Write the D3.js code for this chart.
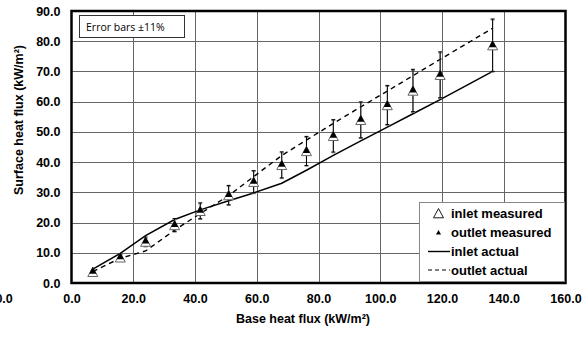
<!DOCTYPE html>
<html>
<head>
<meta charset="utf-8">
<script src="https://cdn.jsdelivr.net/npm/d3@7"></script>
<style>
  html, body { margin: 0; padding: 0; background: #fff; }
  svg text { font-family: "Liberation Sans", Arial, sans-serif; }
</style>
</head>
<body>
<svg id="chart" width="588" height="338"></svg>
<script>
// Base heat flux at each measuring point (kW/m²)
const baseFlux = [6.9, 15.8, 24.0, 33.4, 41.7, 50.9, 59.0, 68.1, 76.1, 84.8, 93.7, 102.3, 110.6, 119.4, 136.4];
// Surface heat flux (kW/m²)
const inletMeasured  = [3.4, 8.2, 13.4, 18.9, 23.6, 28.8, 33.2, 38.8, 43.4, 48.4, 53.7, 58.6, 63.4, 68.6, 78.4];
const outletMeasured = [3.7, 8.5, 13.7, 19.2, 23.9, 29.1, 33.5, 39.1, 43.7, 48.7, 54.0, 58.9, 63.7, 68.9, 78.7];
const inletActual    = [4.6, 9.8, 15.7, 21.0, 24.2, 27.2, 29.8, 33.0, 37.3, 42.2, 47.0, 51.6, 56.0, 60.7, 70.0];
const outletActual   = [3.8, 8.2, 10.6, 17.5, 23.0, 28.9, 35.2, 42.2, 47.3, 52.8, 58.3, 63.5, 68.6, 74.0, 84.3];
const errorFraction = 0.11;

const xTickValues = [-22, 0, 20, 40, 60, 80, 100, 120, 140, 160];
const xTickLabels = ["0.0", "0.0", "20.0", "40.0", "60.0", "80.0", "100.0", "120.0", "140.0", "160.0"];
const yTickValues = [0, 10, 20, 30, 40, 50, 60, 70, 80, 90];

const legendLabels = ["inlet measured", "outlet measured", "inlet actual", "outlet actual"];

const svg = d3.select("#chart");
const x = d3.scaleLinear().domain([0, 160]).range([71.5, 565.5]);
const y = d3.scaleLinear().domain([0, 90]).range([283, 11]);

const fmt = d3.format(".1f");

// Grid
const grid = svg.append("g");
grid.selectAll("line.gx").data(xTickValues.filter(v => v > 0 && v < 160)).join("line")
  .attr("x1", d => Math.round(x(d)) + 0.5).attr("x2", d => Math.round(x(d)) + 0.5)
  .attr("y1", y(90)).attr("y2", y(0))
  .attr("stroke", "#666").attr("stroke-width", 1);
grid.selectAll("line.gy").data(yTickValues.filter(v => v > 0 && v < 90)).join("line")
  .attr("y1", d => Math.round(y(d)) + 0.5).attr("y2", d => Math.round(y(d)) + 0.5)
  .attr("x1", x(0)).attr("x2", x(160))
  .attr("stroke", "#666").attr("stroke-width", 1);

// Axis tick labels
const yAxis = d3.axisLeft(y).tickValues(yTickValues).tickFormat(fmt).tickSize(0).tickPadding(11);
svg.append("g").attr("transform", `translate(${x(0)},0)`).call(yAxis)
  .call(g => g.select(".domain").remove())
  .call(g => g.selectAll("text").attr("font-size", 12.5).attr("font-weight", "bold")
    .attr("fill", "#000"));

const xAxisScale = d3.scaleLinear().domain([-40, 160]).range([x(-40), x(160)]);
const xAxis = d3.axisBottom(xAxisScale).tickValues(xTickValues)
  .tickFormat((d, i) => xTickLabels[i]).tickSize(0).tickPadding(11);
svg.append("g").attr("transform", `translate(0,${y(0)})`).call(xAxis)
  .call(g => g.select(".domain").remove())
  .call(g => g.selectAll("text").attr("font-size", 12.5).attr("font-weight", "bold")
    .attr("fill", "#000"));

// Axis titles
svg.append("text").attr("x", 303).attr("y", 323).attr("text-anchor", "middle")
  .attr("font-size", 12.5).attr("font-weight", "bold").text("Base heat flux (kW/m²)");
svg.append("text").attr("transform", `translate(22.5,${120}) rotate(-90)`)
  .attr("text-anchor", "middle").attr("font-size", 12.5).attr("font-weight", "bold")
  .text("Surface heat flux (kW/m²)");

// Lines
const line = d3.line().x(d => x(d[0])).y(d => y(d[1]));
svg.append("path").datum(baseFlux.map((b, i) => [b, inletActual[i]]))
  .attr("d", line).attr("fill", "none").attr("stroke", "#000").attr("stroke-width", 1.5);
svg.append("path").datum(baseFlux.map((b, i) => [b, outletActual[i]]))
  .attr("d", line).attr("fill", "none").attr("stroke", "#000").attr("stroke-width", 1.4)
  .attr("stroke-dasharray", "5,4");

// Error bars
function errorBars(values, color) {
  const g = svg.append("g").attr("stroke", color).attr("stroke-width", 1);
  values.forEach((v, i) => {
    const cx = x(baseFlux[i]);
    const hi = y(v * (1 + errorFraction)), lo = y(v * (1 - errorFraction));
    g.append("line").attr("x1", cx).attr("x2", cx).attr("y1", hi).attr("y2", lo);
    g.append("line").attr("x1", cx - 2).attr("x2", cx + 2).attr("y1", hi).attr("y2", hi);
    g.append("line").attr("x1", cx - 2).attr("x2", cx + 2).attr("y1", lo).attr("y2", lo);
  });
}
errorBars(inletMeasured, "#888");
errorBars(outletMeasured, "#000");

// Markers
const openTri = (cx, cy) => `M${cx},${cy - 5.5}L${cx + 5},${cy + 3.8}L${cx - 5},${cy + 3.8}Z`;
const fillTri = (cx, cy) => `M${cx},${cy - 5}L${cx + 3.6},${cy + 2}L${cx - 3.6},${cy + 2}Z`;
svg.append("g").selectAll("path").data(inletMeasured).join("path")
  .attr("d", (d, i) => openTri(x(baseFlux[i]), y(d)))
  .attr("fill", "#fff").attr("stroke", "#666").attr("stroke-width", 1);
svg.append("g").selectAll("path").data(outletMeasured).join("path")
  .attr("d", (d, i) => fillTri(x(baseFlux[i]), y(d)))
  .attr("fill", "#000");

// Plot frame
svg.append("rect").attr("x", x(0)).attr("y", y(90))
  .attr("width", x(160) - x(0)).attr("height", y(0) - y(90))
  .attr("fill", "none").attr("stroke", "#000").attr("stroke-width", 2.5);

// Error bar note
svg.append("rect").attr("x", 79.5).attr("y", 15.5).attr("width", 105).attr("height", 22)
  .attr("fill", "#fff").attr("stroke", "#333").attr("stroke-width", 1);
svg.append("text").attr("x", 86).attr("y", 30.5).attr("font-size", 10.5)
  .style("font-family", "'Open Sans', sans-serif").text("Error bars ±11%");

// Legend
const lg = svg.append("g");
lg.append("rect").attr("x", 419.5).attr("y", 202.5).attr("width", 145).attr("height", 79)
  .attr("fill", "#fff").attr("stroke", "#888").attr("stroke-width", 1);
const rowY = [213.5, 232.5, 251.5, 270];
legendLabels.forEach((t, i) => {
  lg.append("text").attr("x", 451).attr("y", rowY[i] + 4.5).attr("font-size", 13)
    .attr("font-weight", "bold").text(t);
});
lg.append("path").attr("d", openTri(438.5, rowY[0] + 0.5))
  .attr("fill", "#fff").attr("stroke", "#000").attr("stroke-width", 0.9);
lg.append("path").attr("d", `M438.5,${rowY[1] - 2.5}L441,${rowY[1] + 2}L436,${rowY[1] + 2}Z`)
  .attr("fill", "#000");
lg.append("line").attr("x1", 428).attr("x2", 450).attr("y1", rowY[2]).attr("y2", rowY[2])
  .attr("stroke", "#000").attr("stroke-width", 1.4);
lg.append("line").attr("x1", 428).attr("x2", 450).attr("y1", rowY[3]).attr("y2", rowY[3])
  .attr("stroke", "#000").attr("stroke-width", 1.2).attr("stroke-dasharray", "4,3");
</script>
</body>
</html>
